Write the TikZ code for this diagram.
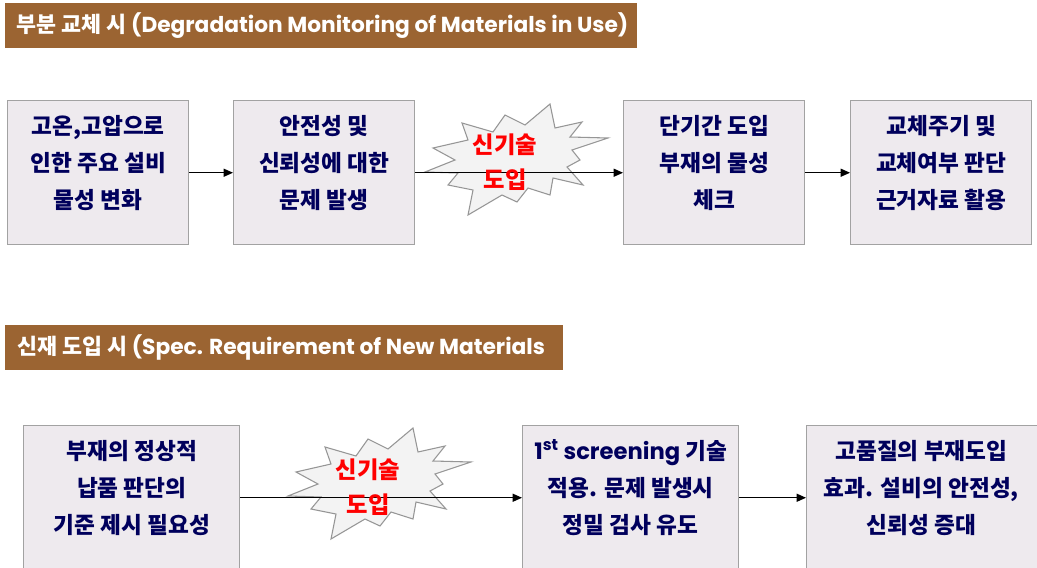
\documentclass[tikz,border=0pt]{standalone}
\usepackage{fontspec}
\setmainfont{Poppins}
\newfontfamily\kr{Noto Sans CJK KR}
\usetikzlibrary{arrows.meta}
\definecolor{barbrown}{RGB}{155,100,50}
\definecolor{boxfill}{RGB}{238,234,238}
\definecolor{boxline}{RGB}{162,162,162}
\definecolor{navy}{RGB}{0,0,92}
\definecolor{burstfill}{RGB}{243,243,243}
\definecolor{burstline}{RGB}{150,150,150}
\tikzset{
  bar/.style={fill=barbrown, draw=none, inner sep=0pt, anchor=north west, minimum height=33.75pt},
  bartxt/.style={text=white, anchor=west, inner sep=0pt, font=\bfseries\fontsize{16.3}{18}\selectfont},
  box/.style={draw=boxline, fill=boxfill, line width=1.1pt, inner sep=0pt, anchor=north west, minimum height=108pt},
  topbox/.style={box, minimum width=135.75pt},
  botbox/.style={box, minimum width=162pt},
  txt/.style={text=navy, align=center, inner sep=0pt, font=\kr\bfseries\fontsize{17}{27.75}\selectfont},
  redtxt/.style={text=red, inner sep=0pt, font=\kr\bfseries\fontsize{17.5}{20}\selectfont},
  conn/.style={-{Triangle[length=7pt,width=6pt]}, black, line width=0.9pt},
  burst/.style={draw=burstline, fill=burstfill, line width=0.8pt, line join=miter}
}
\newcommand{\burstpath}[1]{%
  \draw[burst, shift={#1}] (35,-56) -- (40,-32) -- (67,-38) -- (55,-23) -- (93,-22) -- (57,-10) -- (65,0) -- (52,7) -- (68,25) -- (38,18) -- (35,35) -- (13,28) -- (2,42) -- (-13,35) -- (-47,55) -- (-42,30) -- (-67,25) -- (-57,13) -- (-90,12) -- (-60,0) -- (-82,-12) -- (-47,-20) -- (-53,-37) -- (-22,-28) -- (-10,-45) -- (10,-35) -- cycle;}
\begin{document}
\begin{tikzpicture}[x=0.75pt, y=-0.75pt]
\clip (0,0) rectangle (1037,567);
\fill[white] (0,0) rectangle (1037,567);

% header bars
\node[bar, minimum width=474pt] (h1) at (5,3) {};
\node[bartxt] (h1t) at ([xshift=8.5pt]h1.west) {{\kr 부분 교체 시} (Degradation Monitoring of Materials in Use)};
\node[bar, minimum width=418.5pt] (h2) at (5,325) {};
\node[bartxt] (h2t) at ([xshift=9pt]h2.west) {{\kr 신재 도입 시} (Spec. Requirement of New Materials};

% top row
\node[topbox] (b1) at (7,100) {};
\node[topbox] (b2) at (233,100) {};
\node[topbox] (b3) at (623,100) {};
\node[topbox] (b4) at (850,100) {};
\node[txt] (t1) at ([yshift=7.5pt]b1.center) {고온,고압으로\\인한 주요 설비\\물성 변화};
\node[txt] (t2) at ([yshift=7.5pt]b2.center) {안전성 및\\신뢰성에 대한\\문제 발생};
\node[txt] (t3) at ([yshift=7.5pt]b3.center) {단기간 도입\\부재의 물성\\체크};
\node[txt] (t4) at ([yshift=7.5pt]b4.center) {교체주기 및\\교체여부 판단\\근거자료 활용};

\burstpath{(515,160)}
\draw[conn] (b1.east) -- (b2.west);
\draw[conn] (b2.east) -- (b3.west);
\draw[conn] (b3.east) -- (b4.west);
\node[redtxt] (r1) at (505,145) {신기술};
\node[redtxt] (r2) at (505,180) {도입};

% bottom row
\node[botbox] (c1) at (23,425) {};
\node[botbox] (c2) at (522,425) {};
\node[box, minimum width=180pt] (c3) at (806,425) {};
\node[txt] (u1) at ([yshift=7.5pt]c1.center) {부재의 정상적\\납품 판단의\\기준 제시 필요성};
\node[txt] (u2) at ([yshift=7.5pt]c2.center) {{\rmfamily 1\textsuperscript{st} screening} 기술\\적용. 문제 발생시\\정밀 검사 유도};
\node[txt] (u3) at ([yshift=7.5pt,xshift=-4pt]c3.center) {고품질의 부재도입\\효과. 설비의 안전성,\\신뢰성 증대};

\burstpath{(378,484)}
\draw[conn] (c1.east) -- (c2.west);
\draw[conn] (c2.east) -- (c3.west);
\node[redtxt] (r3) at (368,470) {신기술};
\node[redtxt] (r4) at (368,505) {도입};
\end{tikzpicture}
\end{document}
